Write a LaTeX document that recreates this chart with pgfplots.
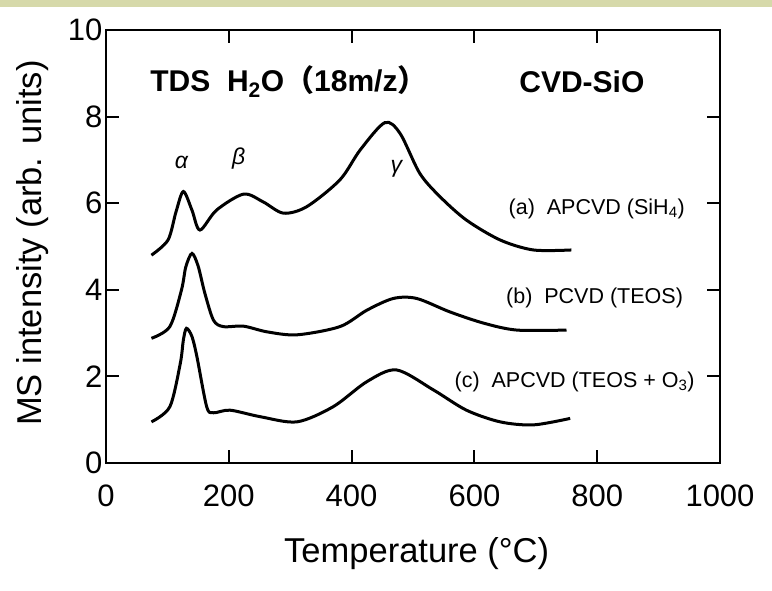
\documentclass[border=0pt]{standalone}
\usepackage{fontspec}
\setmainfont{Liberation Sans}
\newfontfamily\cjk{Noto Sans CJK SC}
\usepackage{pgfplots}
\pgfplotsset{compat=1.18}
\definecolor{topband}{RGB}{214,217,170}

\begin{document}
\begin{tikzpicture}[x=1pt,y=1pt]
\useasboundingbox (0,0) rectangle (772,590);
\fill[topband] (0,583) rectangle (772,590);
\begin{axis}[
    at={(106pt,127pt)}, anchor=south west,
    scale only axis, width=614pt, height=433pt,
    xmin=0, xmax=1000, ymin=0, ymax=10,
    xtick={0,200,...,1000}, ytick={0,2,...,10},
    tick align=inside, major tick length=13pt,
    axis line style={line width=2.2pt},
    every tick/.style={black, line width=2pt},
    tick label style={font=\fontsize{31}{33}\selectfont},
    xticklabel style={yshift=-18pt},
    /pgf/number format/assume math mode=true,
    /pgf/number format/1000 sep={},
    xlabel={Temperature (°C)},
    ylabel={MS intensity (arb. units)},
    label style={font=\fontsize{34.5}{38}\selectfont},
    xlabel style={at={(axis description cs:0.506,-0.21)}, anchor=center},
    ylabel style={at={(axis description cs:-0.119,0.508)}, anchor=center},
]
  % (a) APCVD (SiH4)
  \addplot[black, line width=3pt, smooth] coordinates {
    (74,4.80)(101,5.15)(114,5.80)(126,6.27)(140,5.84)(153,5.38)(180,5.84)
    (224,6.21)(256,6.03)(289,5.77)(327,5.92)(381,6.54)(414,7.23)(454,7.86)
    (479,7.61)(511,6.69)(544,6.15)(587,5.61)(642,5.15)(696,4.92)(758,4.92)
  };
  % (b) PCVD (TEOS)
  \addplot[black, line width=3pt, smooth] coordinates {
    (74,2.88)(104,3.15)(123,4.00)(130,4.53)(140,4.84)(150,4.55)(161,3.92)
    (175,3.30)(191,3.15)(224,3.16)(262,3.03)(311,2.96)(381,3.15)(425,3.53)
    (468,3.80)(506,3.80)(560,3.49)(615,3.23)(669,3.07)(750,3.07)
  };
  % (c) APCVD (TEOS + O3)
  \addplot[black, line width=3pt, smooth] coordinates {
    (74,0.95)(104,1.30)(121,2.30)(126,2.84)(131,3.11)(140,2.92)(148,2.46)
    (164,1.30)(175,1.16)(202,1.22)(251,1.07)(311,0.95)(370,1.30)(425,1.88)
    (473,2.15)(533,1.69)(587,1.22)(642,0.95)(696,0.88)(756,1.03)
  };

  \node[font=\bfseries\fontsize{30}{32}\selectfont] at (axis cs:298,8.8)
    {TDS\ \ H\textsubscript{2}O{\cjk （}18m/z{\cjk ）}};
  \node[font=\bfseries\fontsize{30}{32}\selectfont] at (axis cs:775,8.8) {CVD-SiO};

  \node[font=\itshape\fontsize{23}{25}\selectfont] at (axis cs:123,6.95) {α};
  \node[font=\itshape\fontsize{23}{25}\selectfont] at (axis cs:216,7.02) {β};
  \node[font=\itshape\fontsize{23}{25}\selectfont] at (axis cs:473,6.8) {γ};

  \node[font=\fontsize{21.5}{24}\selectfont, anchor=east, inner sep=0pt] at (axis cs:943,5.87)
    {(a)\ \ APCVD (SiH\textsubscript{4})};
  \node[font=\fontsize{21.5}{24}\selectfont, anchor=east, inner sep=0pt] at (axis cs:940,3.81)
    {(b)\ \ PCVD (TEOS)};
  \node[font=\fontsize{21.5}{24}\selectfont, anchor=east, inner sep=0pt] at (axis cs:959,1.87)
    {(c)\ \ APCVD (TEOS + O\textsubscript{3})};
\end{axis}
\end{tikzpicture}
\end{document}
